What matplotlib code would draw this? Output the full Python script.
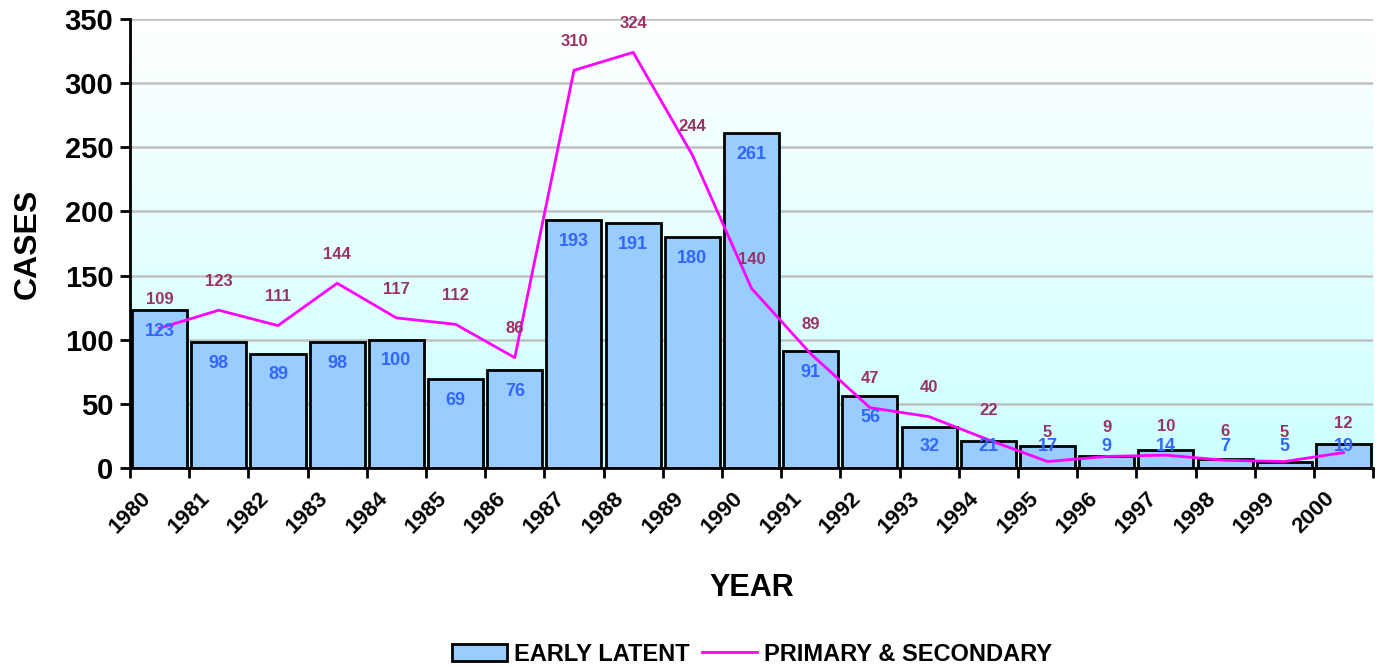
import matplotlib
matplotlib.use('Agg')
import matplotlib.pyplot as plt
import numpy as np
from matplotlib.patches import Patch
from matplotlib.lines import Line2D

plt.rcParams['font.family'] = ['Liberation Sans', 'DejaVu Sans']

years = [str(y) for y in range(1980, 2001)]
early_latent = [123, 98, 89, 98, 100, 69, 76, 193, 191, 180, 261, 91, 56, 32, 21, 17, 9, 14, 7, 5, 19]
primary_secondary = [109, 123, 111, 144, 117, 112, 86, 310, 324, 244, 140, 89, 47, 40, 22, 5, 9, 10, 6, 5, 12]

fig = plt.figure(figsize=(13.8, 6.67), dpi=100)
ax = fig.add_axes([0.0942, 0.2984, 0.9008, 0.6731])

n = len(years)
x = np.arange(n) + 0.5

# gradient background: white at top, light cyan at bottom
grad = np.linspace(0, 1, 256)[:, None, None]
top = np.array([1.0, 1.0, 1.0])
bot = np.array([0.80, 1.0, 1.0])
img = bot + (top - bot) * grad
ax.imshow(img, extent=[0, n, 0, 350], aspect='auto', zorder=0, origin='lower')

ax.set_xlim(0, n)
ax.set_ylim(0, 350)

for yv in range(50, 351, 50):
    ax.axhline(yv, color='#C0C0C0', lw=1.8, zorder=1)

ax.bar(x, early_latent, width=0.93, color='#99CCFF', edgecolor='black', linewidth=2, zorder=2)
ax.plot(x, primary_secondary, color='#FF00FF', lw=2, zorder=3)

# labels sit inside the bar top, but never lower than a fixed height
for xi, v in zip(x, early_latent):
    ax.text(xi, max(v - 16.5, 16.5), str(v), ha='center', va='center',
            color='#3366FF', fontsize=13, fontweight='bold', zorder=4)
for xi, v in zip(x, primary_secondary):
    ax.text(xi, v + 22.5, str(v), ha='center', va='center',
            color='#993366', fontsize=12, fontweight='bold', zorder=4)

ax.set_xticks(np.arange(n + 1))
ax.set_xticklabels(years + [''], rotation=45, ha='center', va='top',
                   fontsize=16, fontweight='bold')
ax.tick_params(axis='x', length=7, width=2, pad=7)
ax.set_yticks(range(0, 351, 50))
ax.set_yticklabels([str(v) for v in range(0, 351, 50)], fontsize=21, fontweight='bold')
ax.tick_params(axis='y', length=7, width=2, pad=5)

for s in ['top', 'right']:
    ax.spines[s].set_visible(False)
for s in ['left', 'bottom']:
    ax.spines[s].set_linewidth(2)

ax.set_xlabel('YEAR', fontsize=22, fontweight='bold', labelpad=26)
ax.set_ylabel('CASES', fontsize=23, fontweight='bold', labelpad=16)

handles = [Patch(facecolor='#99CCFF', edgecolor='black', linewidth=2),
           Line2D([0], [0], color='#FF00FF', lw=2)]
fig.legend(handles, ['EARLY LATENT', 'PRIMARY & SECONDARY'], loc='lower center',
           bbox_to_anchor=(0.545, -0.03), ncol=2, frameon=False,
           prop={'size': 17, 'weight': 'bold'}, handlelength=2.3, handleheight=0.76,
           columnspacing=0.55, handletextpad=0.3)

fig.savefig('out.png', dpi=100)
